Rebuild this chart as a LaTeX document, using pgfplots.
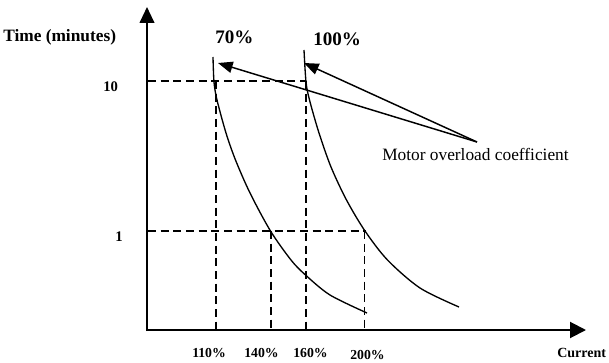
\documentclass[border=0pt]{standalone}
\usepackage{pgfplots}
\pgfplotsset{compat=1.18}
\usepackage{fontspec}
\setmainfont{Liberation Serif}
\usetikzlibrary{arrows.meta}
\begin{document}
\begin{tikzpicture}
\begin{axis}[
  scale only axis, x=0.75pt, y=0.75pt,
  xmin=0, xmax=609, ymin=0, ymax=363, y dir=reverse,
  hide axis, clip=false,
]
\path (rel axis cs:0,0) rectangle (rel axis cs:1,1);
% dashed guide lines
\addplot[black, line width=1.1pt, dash pattern=on 6pt off 3.5pt] coordinates {(148,81) (306,81)};
\addplot[black, line width=1.1pt, dash pattern=on 6pt off 3.5pt] coordinates {(216,81) (216,330)};
\addplot[black, line width=1.1pt, dash pattern=on 6pt off 3.5pt] coordinates {(306,81) (306,330)};
\addplot[black, line width=1.1pt, dash pattern=on 6pt off 3.5pt] coordinates {(148,231) (366,231)};
\addplot[black, line width=1.1pt, dash pattern=on 6pt off 3.5pt] coordinates {(271,231) (271,330)};
\addplot[black, line width=1.1pt, dash pattern=on 6pt off 3.5pt] coordinates {(364.5,231) (364.5,330)};
% curves
\addplot[black, line width=1pt, smooth, tension=0.5] coordinates {
  (213,57) (214,82) (217,100) (226,133) (235.5,160) (250,193) (270.5,231) (291,260) (305.5,275) (330,295) (367,313)};
\addplot[black, line width=1pt, smooth, tension=0.5] coordinates {
  (304,50) (306,82) (309.5,100) (319,133) (331,167) (346.5,200) (365,231) (387.5,260) (420,288) (459,307)};
% pointer arrows
\addplot[black, line width=1.1pt, -{Triangle[length=11pt,width=8.5pt]}] coordinates {(477,142) (218,63)};
\addplot[black, line width=1.1pt, -{Triangle[length=11pt,width=8.5pt]}] coordinates {(477,142) (304,63)};
% axes
\addplot[black, line width=1.5pt, -{Triangle[length=12pt,width=11pt]}] coordinates {(147,331) (147,7)};
\addplot[black, line width=1.5pt, -{Triangle[length=12pt,width=12pt]}] coordinates {(146.25,330) (586,330)};
% texts
\node[anchor=base west, inner sep=0, font=\fontsize{13}{15}\selectfont\bfseries] at (axis cs:3,41.5) {Time (minutes)};
\node[anchor=base west, inner sep=0, font=\fontsize{14.3}{16}\selectfont\bfseries] at (axis cs:215,44) {70\%};
\node[anchor=base west, inner sep=0, font=\fontsize{14.3}{16}\selectfont\bfseries] at (axis cs:313,45.5) {100\%};
\node[anchor=base west, inner sep=0, font=\fontsize{13}{15}\selectfont] at (axis cs:382,161) {Motor overload coefficient};
\node[anchor=base west, inner sep=0, font=\fontsize{11}{12}\selectfont\bfseries] at (axis cs:103,92) {10};
\node[anchor=base west, inner sep=0, font=\fontsize{11}{12}\selectfont\bfseries] at (axis cs:115,241) {1};
\node[anchor=base west, inner sep=0, font=\fontsize{10.3}{12}\selectfont\bfseries] at (axis cs:192,357) {110\%};
\node[anchor=base west, inner sep=0, font=\fontsize{10.3}{12}\selectfont\bfseries] at (axis cs:244,357) {140\%};
\node[anchor=base west, inner sep=0, font=\fontsize{10.3}{12}\selectfont\bfseries] at (axis cs:293,357) {160\%};
\node[anchor=base west, inner sep=0, font=\fontsize{10.3}{12}\selectfont\bfseries] at (axis cs:350,359) {200\%};
\node[anchor=base west, inner sep=0, font=\fontsize{10.5}{12}\selectfont\bfseries] at (axis cs:557,357) {Current};
\end{axis}
\end{tikzpicture}
\end{document}
